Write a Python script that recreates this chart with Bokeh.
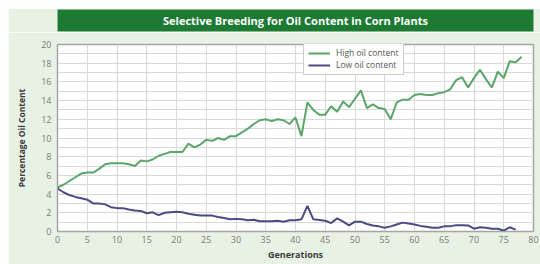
from bokeh.plotting import figure
from bokeh.layouts import column
from bokeh.models import ColumnDataSource, Legend, LegendItem, FixedTicker, Range1d
from bokeh.core.properties import value
from bokeh.embed import file_html
from bokeh.resources import INLINE

title_text = "Selective Breeding for Oil Content in Corn Plants"
x_label = "Generations"
y_label = "Percentage Oil Content"

gen_high = list(range(0, 79))
high_oil = [4.7, 5.0, 5.4, 5.8, 6.2, 6.3, 6.3, 6.7, 7.2, 7.3,
            7.3, 7.3, 7.2, 7.0, 7.6, 7.5, 7.7, 8.1, 8.3, 8.5,
            8.5, 8.5, 9.4, 9.0, 9.3, 9.8, 9.7, 10.0, 9.8, 10.2,
            10.2, 10.6, 11.0, 11.5, 11.9, 12.0, 11.8, 12.0, 11.9, 11.5,
            12.2, 10.2, 13.8, 13.0, 12.5, 12.5, 13.4, 12.8, 13.9, 13.3,
            14.2, 15.1, 13.2, 13.6, 13.2, 13.1, 12.0, 13.8, 14.1, 14.1,
            14.6, 14.7, 14.6, 14.6, 14.8, 14.9, 15.2, 16.2, 16.5, 15.4,
            16.4, 17.3, 16.3, 15.4, 17.1, 16.4, 18.2, 18.1, 18.7]

gen_low = list(range(0, 78))
low_oil = [4.6, 4.2, 3.9, 3.7, 3.55, 3.4, 3.0, 3.0, 2.9, 2.6,
           2.5, 2.5, 2.35, 2.25, 2.2, 1.95, 2.05, 1.75, 2.0, 2.05,
           2.1, 2.05, 1.9, 1.8, 1.7, 1.7, 1.7, 1.55, 1.45, 1.3,
           1.35, 1.3, 1.2, 1.25, 1.1, 1.1, 1.1, 1.15, 1.05, 1.2,
           1.2, 1.3, 2.75, 1.3, 1.24, 1.15, 0.9, 1.4, 1.05, 0.65,
           1.05, 1.05, 0.8, 0.65, 0.55, 0.4, 0.55, 0.75, 0.95, 0.85,
           0.75, 0.6, 0.5, 0.4, 0.4, 0.55, 0.55, 0.68, 0.68, 0.65,
           0.3, 0.45, 0.4, 0.3, 0.3, 0.1, 0.45, 0.2]

series_names = ["High oil content", "Low oil content"]
x_ticks = list(range(0, 85, 5))
y_ticks = list(range(0, 22, 2))

BG = "#e8f2e4"
BAR = "#1d7a32"
HIGH_C = "#5aa66a"
LOW_C = "#4b4a85"
GRID = "#d9d9d9"
FONT = "Open Sans"

W = 532

# Title bar
t = figure(width=W, height=24, x_range=Range1d(0, 1), y_range=Range1d(0, 1),
           x_axis_type=None, y_axis_type=None, toolbar_location=None,
           output_backend="svg", min_border_top=1, min_border_bottom=1,
           min_border_left=0, min_border_right=0)
t.background_fill_color = BAR
t.border_fill_color = BG
t.outline_line_color = None
t.text(x=[0.5], y=[0.5], text=[title_text], text_color="white",
       text_font=value(FONT), text_font_style="bold", text_font_size="11px",
       text_align="center", text_baseline="middle")

# Main chart
p = figure(width=W, height=232, x_range=Range1d(0, 80), y_range=Range1d(0, 20),
           toolbar_location=None, output_backend="svg",
           min_border_top=12, min_border_bottom=33, min_border_left=49,
           min_border_right=7)
p.background_fill_color = "white"
p.border_fill_color = BG
p.outline_line_color = "#a5a5a5"
p.outline_line_width = 1.5

src_h = ColumnDataSource(dict(x=gen_high, y=high_oil))
src_l = ColumnDataSource(dict(x=gen_low, y=low_oil))
rh = p.line("x", "y", source=src_h, line_color=HIGH_C, line_width=2)
rl = p.line("x", "y", source=src_l, line_color=LOW_C, line_width=2)

p.xaxis.ticker = FixedTicker(ticks=x_ticks)
p.yaxis.ticker = FixedTicker(ticks=y_ticks, minor_ticks=list(range(0, 21)))
p.xgrid.grid_line_color = GRID
p.ygrid.grid_line_color = GRID
p.ygrid.minor_grid_line_color = GRID

for ax in (p.xaxis[0], p.yaxis[0]):
    ax.axis_line_color = "#a5a5a5"
    ax.major_tick_line_color = None
    ax.minor_tick_line_color = None
    ax.major_tick_out = 0
    ax.major_tick_in = 0
    ax.minor_tick_out = 0
    ax.major_label_text_font = FONT
    ax.major_label_text_font_size = "9px"
    ax.major_label_text_color = "#7a7a7a"
    ax.axis_label_text_font = FONT
    ax.axis_label_text_font_style = "bold"
    ax.axis_label_text_color = "#3a3a3a"

p.xaxis.axis_label = x_label
p.yaxis.axis_label = y_label
p.xaxis.axis_label_text_font_size = "9px"
p.yaxis.axis_label_text_font_size = "8.5px"
p.xaxis.major_label_standoff = 4
p.yaxis.major_label_standoff = 6
p.xaxis.axis_label_standoff = 2
p.yaxis.axis_label_standoff = 11

legend = Legend(items=[LegendItem(label=series_names[0], renderers=[rh]),
                       LegendItem(label=series_names[1], renderers=[rl])],
                location=(246, 156), orientation="vertical")
legend.label_text_font = FONT
legend.label_text_font_size = "8.5px"
legend.label_text_color = "#555555"
legend.glyph_width = 22
legend.glyph_height = 10
legend.label_height = 10
legend.label_standoff = 6
legend.spacing = 1
legend.padding = 4
legend.margin = 0
legend.border_line_color = "#9a9a9a"
legend.border_line_width = 1
legend.background_fill_color = "white"
legend.background_fill_alpha = 1
p.add_layout(legend, "center")

layout = column(t, p, spacing=0, margin=(8, 0, 0, 8))
open("out.html", "w").write(file_html(layout, INLINE))
